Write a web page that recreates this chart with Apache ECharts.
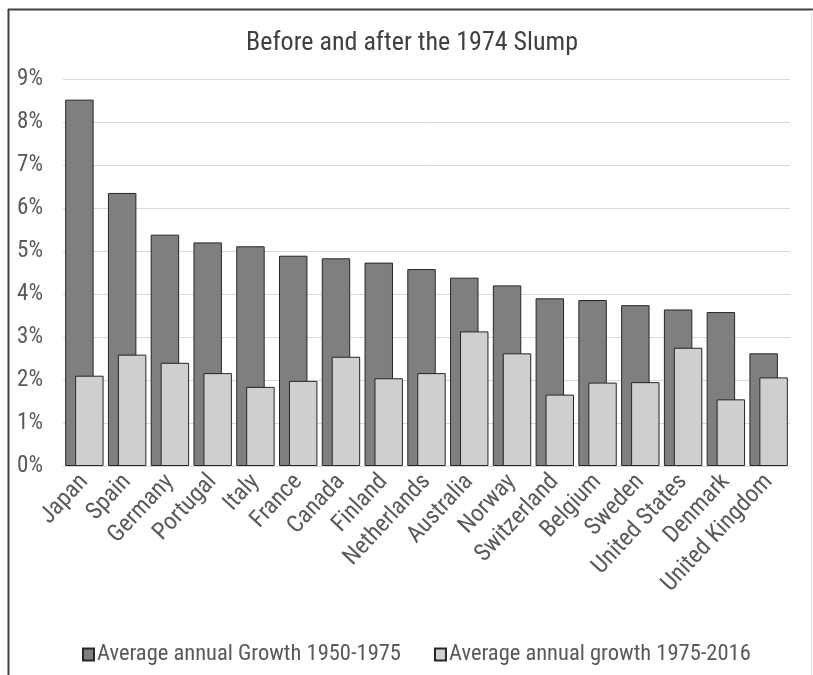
<!DOCTYPE html>
<html>
<head>
<meta charset="utf-8">
<script src="https://cdn.jsdelivr.net/npm/echarts@6/dist/echarts.min.js"></script>
<style>
  html, body { margin: 0; padding: 0; background: #ffffff; }
  #chart { width: 813px; height: 675px; }
</style>
</head>
<body>
<div id="chart"></div>
<script>
const categories = ["Japan", "Spain", "Germany", "Portugal", "Italy", "France", "Canada", "Finland", "Netherlands", "Australia", "Norway", "Switzerland", "Belgium", "Sweden", "United States", "Denmark", "United Kingdom"];
const growth1950_1975 = [8.52, 6.35, 5.38, 5.20, 5.11, 4.89, 4.83, 4.73, 4.58, 4.38, 4.20, 3.90, 3.86, 3.74, 3.64, 3.58, 2.62];
const growth1975_2016 = [2.10, 2.59, 2.40, 2.16, 1.84, 1.98, 2.54, 2.04, 2.16, 3.13, 2.62, 1.66, 1.94, 1.95, 2.75, 1.55, 2.06];
const seriesNames = ["Average annual Growth 1950-1975", "Average annual growth 1975-2016"];
const titleText = "Before and after the 1974 Slump";

const FONT = "'Liberation Sans Narrow', 'Arial Narrow', 'Roboto Condensed', 'Liberation Sans', sans-serif";

const chart = echarts.init(document.getElementById('chart'), null, { renderer: 'canvas' });
chart.setOption({
  animation: false,
  backgroundColor: '#ffffff',
  textStyle: { fontFamily: FONT },
  title: {
    text: titleText,
    left: 407,
    textAlign: 'center',
    top: 25,
    textStyle: { fontFamily: FONT, fontSize: 26, fontWeight: 'normal', color: '#404040' }
  },
  grid: { left: 63, right: 23, top: 79, bottom: 209, containLabel: false },
  legend: {
    data: seriesNames,
    left: 77,
    top: 638,
    icon: 'rect',
    itemWidth: 11,
    itemHeight: 12,
    itemGap: 33,
    textStyle: { fontFamily: FONT, fontSize: 22.5, color: '#595959', padding: [0, 0, 0, -2] }
  },
  xAxis: {
    type: 'category',
    data: categories,
    axisLine: { show: true, lineStyle: { color: '#d9d9d9', width: 1 } },
    axisTick: { show: false },
    axisLabel: { rotate: 47, fontFamily: FONT, fontSize: 24, color: '#595959', margin: 12, interval: 0 }
  },
  yAxis: {
    type: 'value',
    min: 0,
    max: 9,
    interval: 1,
    axisLine: { show: false },
    axisTick: { show: false },
    splitLine: { lineStyle: { color: '#d9d9d9', width: 1 } },
    axisLabel: { formatter: '{value}%', fontFamily: FONT, fontSize: 23, color: '#595959', margin: 20 }
  },
  series: [
    {
      name: seriesNames[0],
      type: 'bar',
      data: growth1950_1975,
      barWidth: '66.5%',
      barGap: '-65%',
      itemStyle: { color: '#7f7f7f', borderColor: '#262626', borderWidth: 1 }
    },
    {
      name: seriesNames[1],
      type: 'bar',
      data: growth1975_2016,
      barWidth: '66.5%',
      itemStyle: { color: '#d0cfd0', borderColor: '#262626', borderWidth: 1 }
    }
  ],
  graphic: [
    { type: 'line', shape: { x1: 8, y1: 9.5, x2: 813, y2: 9.5 }, style: { stroke: '#404040', lineWidth: 2 }, silent: true },
    { type: 'line', shape: { x1: 8.5, y1: 9, x2: 8.5, y2: 675 }, style: { stroke: '#404040', lineWidth: 2 }, silent: true },
    { type: 'line', shape: { x1: 811.5, y1: 10, x2: 811.5, y2: 675 }, style: { stroke: '#e0e0e0', lineWidth: 1 }, silent: true }
  ]
});
</script>
</body>
</html>
